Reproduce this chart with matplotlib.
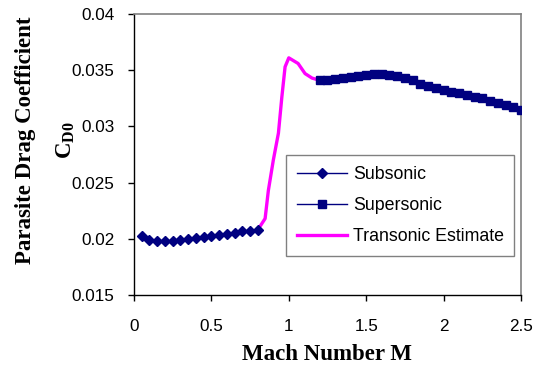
import matplotlib
matplotlib.use("Agg")
import matplotlib.pyplot as plt

# Mach number / drag coefficient data
mach_sub = [0.05, 0.10, 0.15, 0.20, 0.25, 0.30, 0.35, 0.40,
            0.45, 0.50, 0.55, 0.60, 0.65, 0.70, 0.75, 0.80]
cd0_sub = [0.02025, 0.0199, 0.0198, 0.0198, 0.01983, 0.0199, 0.01995, 0.02005,
           0.02015, 0.02025, 0.02035, 0.02045, 0.02055, 0.02065, 0.0207, 0.0208]

mach_sup = [1.20, 1.25, 1.30, 1.35, 1.40, 1.45, 1.50, 1.55, 1.60,
            1.65, 1.70, 1.75, 1.80, 1.85, 1.90, 1.95, 2.00, 2.05,
            2.10, 2.15, 2.20, 2.25, 2.30, 2.35, 2.40, 2.45, 2.50]
cd0_sup = [0.0341, 0.0341, 0.0342, 0.0343, 0.0344, 0.0345, 0.0346, 0.0347, 0.0347,
           0.0346, 0.0345, 0.0343, 0.0341, 0.0338, 0.0336, 0.0334, 0.0332, 0.0331,
           0.0330, 0.0328, 0.0326, 0.0325, 0.0323, 0.0321, 0.0319, 0.0317, 0.0315]

mach_trans = [0.80, 0.847, 0.868, 0.90, 0.933, 0.955, 0.976, 1.00, 1.06, 1.105, 1.15, 1.20]
cd0_trans = [0.0208, 0.0218, 0.0243, 0.0270, 0.0294, 0.0326, 0.0353, 0.0361, 0.0356, 0.0347, 0.0343, 0.0341]

x_ticks = [0, 0.5, 1, 1.5, 2, 2.5]
y_ticks = [0.015, 0.02, 0.025, 0.03, 0.035, 0.04]

plt.rcParams["font.family"] = ["Liberation Sans", "DejaVu Sans"]
plt.rcParams["mathtext.fontset"] = "custom"
plt.rcParams["mathtext.rm"] = "Liberation Serif:bold"
plt.rcParams["mathtext.bf"] = "Liberation Serif:bold"

fig = plt.figure(figsize=(5.39, 3.65), dpi=100)
ax = fig.add_axes([0.2486, 0.1918, 0.7180, 0.7698])

navy = "#000080"
ax.plot(mach_trans, cd0_trans, color="#FF00FF", lw=2.4, label="Transonic Estimate", zorder=2)
ax.plot(mach_sub, cd0_sub, color=navy, lw=1, marker="D", markersize=4.8,
        label="Subsonic", zorder=3)
ax.plot(mach_sup, cd0_sup, color=navy, lw=1, marker="s", markersize=5.5,
        label="Supersonic", zorder=3)

ax.set_xlim(0, 2.5)
ax.set_ylim(0.015, 0.04)
ax.set_xticks(x_ticks)
ax.set_xticklabels(["0", "0.5", "1", "1.5", "2", "2.5"])
ax.set_yticks(y_ticks)
ax.set_yticklabels(["0.015", "0.02", "0.025", "0.03", "0.035", "0.04"])
ax.tick_params(direction="out", length=4, width=1, labelsize=12.3, color="black")
ax.tick_params(axis="y", pad=10)
ax.tick_params(axis="x", pad=13)

for side in ("top", "right"):
    ax.spines[side].set_color("#808080")
    ax.spines[side].set_linewidth(1.2)
for side in ("left", "bottom"):
    ax.spines[side].set_color("black")
    ax.spines[side].set_linewidth(1)

handles, labels = ax.get_legend_handles_labels()
order = [1, 2, 0]
leg = ax.legend([handles[i] for i in order], [labels[i] for i in order],
                loc="upper left", bbox_to_anchor=(0.393, 0.498),
                fontsize=12.8, frameon=True, fancybox=False, framealpha=1,
                edgecolor="#808080", handlelength=2.8, borderaxespad=0,
                labelspacing=0.8, borderpad=0.6, handletextpad=0.35)
leg.get_frame().set_linewidth(1)

fig.text(0.6067, 0.014, "Mach Number M", ha="center", va="baseline",
         fontfamily="Liberation Serif", fontweight="bold", fontsize=16.5)
fig.text(0.048, 0.616, "Parasite Drag Coefficient", rotation=90, ha="center", va="center",
         fontfamily="Liberation Serif", fontweight="bold", fontsize=16.5)
fig.text(0.122, 0.616, r"C$_{\mathrm{D0}}$", rotation=90, ha="center", va="center",
         fontfamily="Liberation Serif", fontweight="bold", fontsize=16.5)

fig.savefig("out.png", dpi=100)
